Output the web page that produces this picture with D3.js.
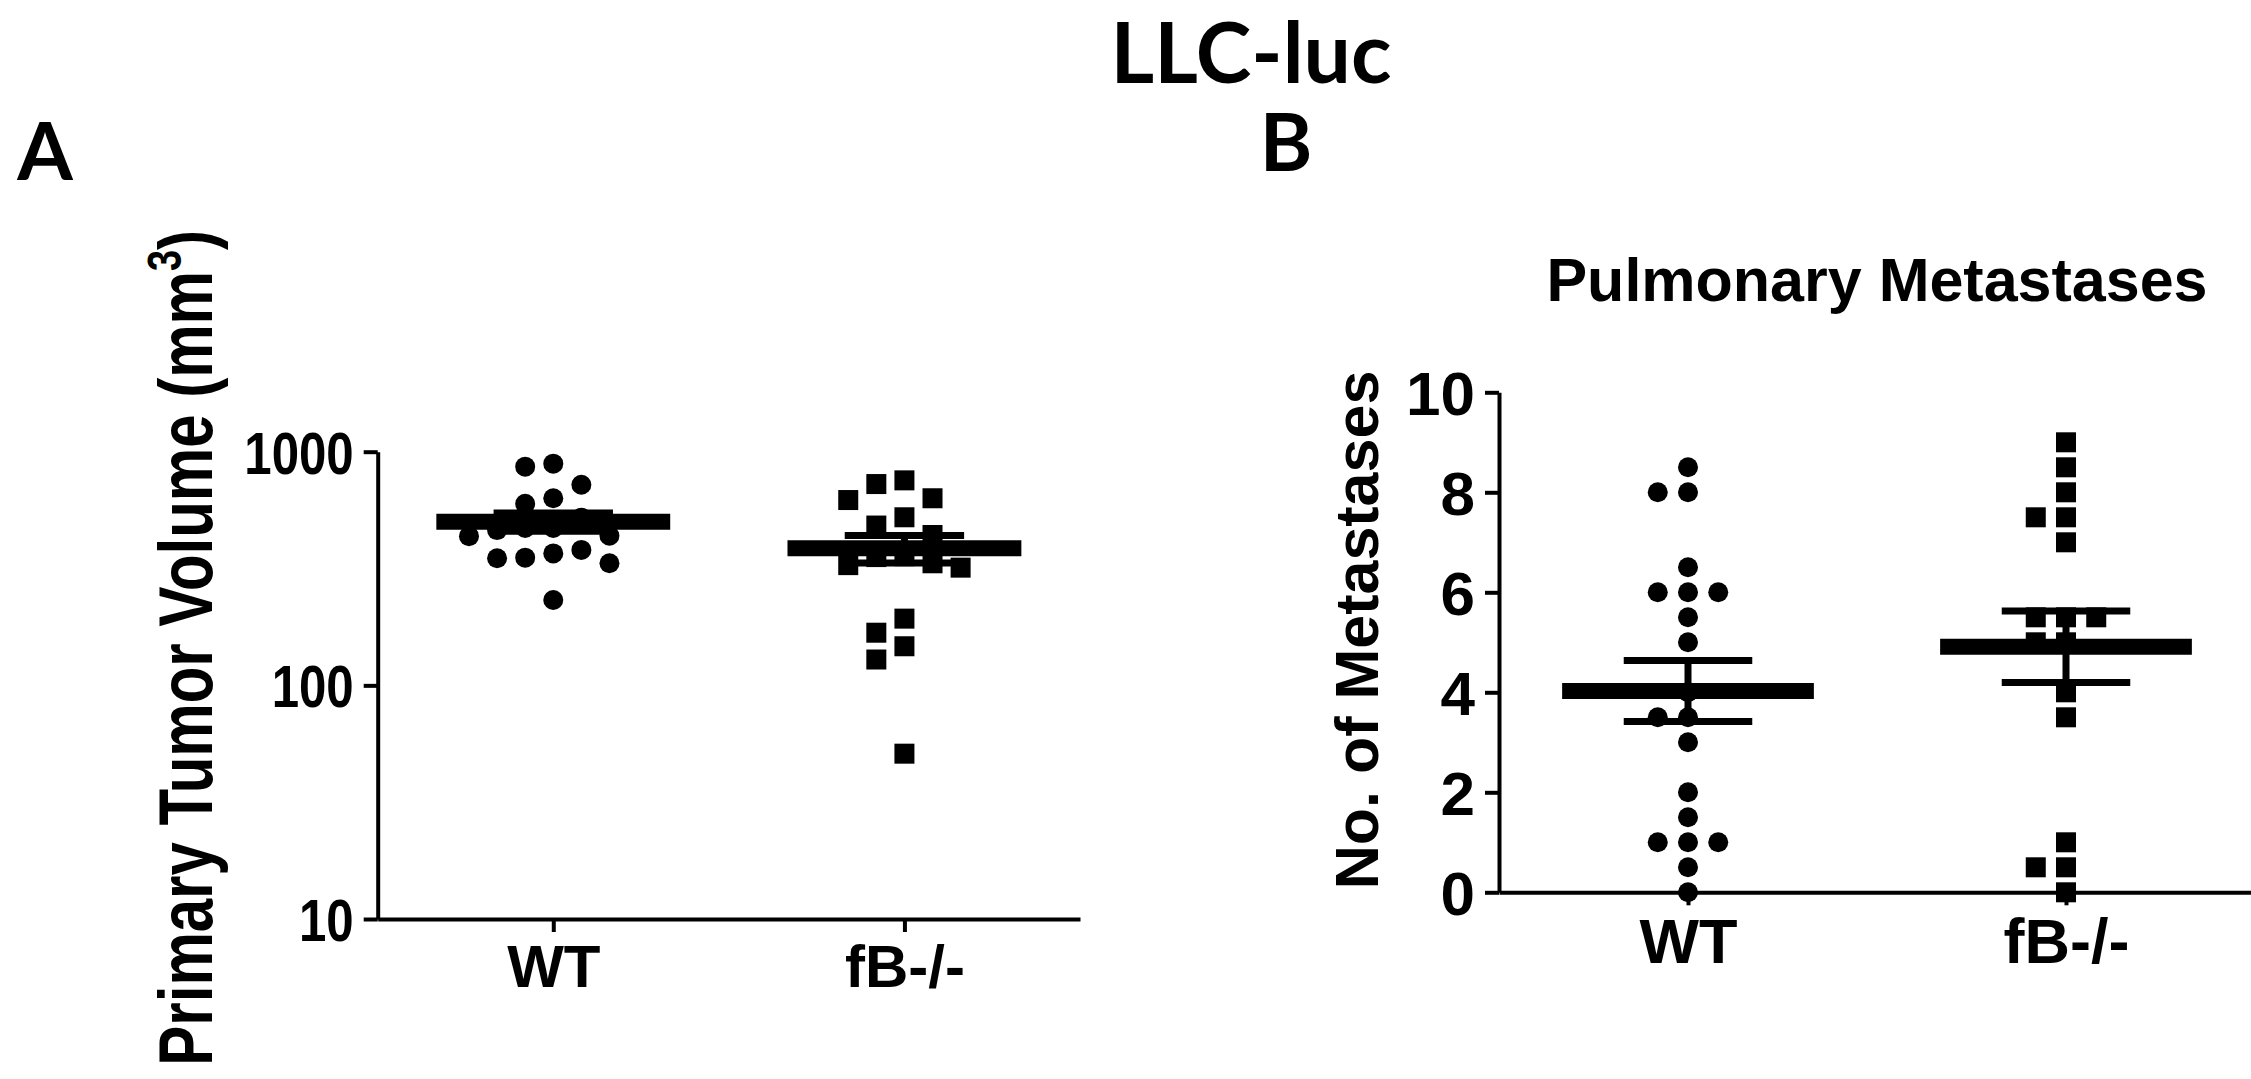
<!DOCTYPE html>
<html><head><meta charset="utf-8">
<script src="https://cdn.jsdelivr.net/npm/d3@7"></script>
<style>html,body{margin:0;padding:0;background:#fff;overflow:hidden}</style>
</head><body><svg id="chart" width="2251" height="1079"></svg>
<script>
// ---------- data ----------
const categories = ["WT", "fB-/-"];
const volumeWT = [889, 863, 722, 632, 599, 522, 472, 472, 462, 437, 435, 380, 367, 352, 350, 333, 232];
const volumeFB = [754, 727, 632, 621, 524, 483, 440, 357, 354, 333, 327, 319, 193, 168, 147, 129, 51];
const metastasesWT = [8.5, 8, 8, 6.5, 6, 6, 6, 5.5, 5, 4, 3.5, 3.5, 3, 2, 1.5, 1, 1, 1, 0.5, 0];
const metastasesFB = [9, 8.5, 8, 7.5, 7.5, 7, 5.5, 5.5, 5.5, 5, 5, 4, 3.5, 1, 0.5, 0.5, 0];
const volumeTicks = [10, 100, 1000];
const volumeTickLabels = ["10", "100", "1000"];
const metastasesTicks = [0, 2, 4, 6, 8, 10];
const mainTitle = "LLC-luc";
const panelLabels = ["A", "B"];
const titleB = "Pulmonary Metastases";
const yLabelB = "No. of Metastases";

// ---------- setup ----------
const svg = d3.select("#chart");
const FONT = "'Liberation Sans', Arial, Helvetica, sans-serif";
const TFONT = "Lato, 'Open Sans', sans-serif";

svg.append("text").attr("x", 1251).attr("y", 83).attr("text-anchor", "middle")
  .attr("font-family", TFONT).attr("font-weight", 700).attr("font-size", 84).text(mainTitle);
svg.append("text").attr("x", 45).attr("y", 180).attr("text-anchor", "middle")
  .attr("font-family", TFONT).attr("font-weight", 700).attr("font-size", 80).text(panelLabels[0]);
svg.append("text").attr("x", 1286).attr("y", 171).attr("text-anchor", "middle")
  .attr("font-family", TFONT).attr("font-weight", 700).attr("font-size", 80).text(panelLabels[1]);

function swarm(values, yScale, cx, step, minDist) {
  const order = values.map((v, i) => i).sort((a, b) => values[b] - values[a]);
  const placed = [];
  const out = new Array(values.length);
  order.forEach(i => {
    const y = yScale(values[i]);
    for (let k = 0; k < 40; k++) {
      const slot = k === 0 ? 0 : (k % 2 ? -Math.ceil(k / 2) : Math.ceil(k / 2));
      if (!placed.some(p => p.slot === slot && Math.abs(p.y - y) < minDist)) {
        placed.push({slot, y});
        out[i] = {x: cx + slot * step, y: y, v: values[i]};
        break;
      }
    }
  });
  return out;
}

function styleAxis(g, fontSize) {
  g.selectAll("path.domain").attr("stroke", "#000").attr("stroke-width", 4);
  g.selectAll(".tick line").attr("stroke", "#000").attr("stroke-width", 4);
  g.selectAll(".tick text").attr("font-family", FONT).attr("font-weight", 700)
    .attr("font-size", fontSize).attr("fill", "#000");
}

function drawGroup(g, pts, shape, cx, step, meanY, upY, loY) {
  const size = 20;
  if (shape === "circle") {
    g.selectAll(null).data(pts).enter().append("circle")
      .attr("cx", d => d.x).attr("cy", d => d.y).attr("r", size / 2).attr("fill", "#000");
  } else {
    g.selectAll(null).data(pts).enter().append("rect")
      .attr("x", d => d.x - size / 2).attr("y", d => d.y - size / 2)
      .attr("width", size).attr("height", size).attr("fill", "#000");
  }
  const meanW = step * 0.666, capW = step * 0.34;
  g.append("line").attr("x1", cx).attr("x2", cx).attr("y1", upY).attr("y2", loY)
    .attr("stroke", "#000").attr("stroke-width", 7);
  [upY, loY].forEach(y => g.append("line").attr("x1", cx - capW / 2).attr("x2", cx + capW / 2)
    .attr("y1", y).attr("y2", y).attr("stroke", "#000").attr("stroke-width", 7));
  g.append("line").attr("x1", cx - meanW / 2).attr("x2", cx + meanW / 2)
    .attr("y1", meanY).attr("y2", meanY).attr("stroke", "#000").attr("stroke-width", 16);
}

function stats(arr) {
  const m = d3.mean(arr);
  const sem = d3.deviation(arr) / Math.sqrt(arr.length);
  return {m, sem};
}

// ---------- Panel A ----------
{
  const x = d3.scalePoint().domain(categories).range([377.7, 1080]).padding(0.5);
  const y = d3.scaleLog().domain([10, 1000]).range([919, 451.7]);
  const step = x.step();
  const gx = svg.append("g").attr("transform", "translate(0,919)")
    .call(d3.axisBottom(x).tickSize(13).tickSizeOuter(0).tickPadding(12));
  styleAxis(gx, 60);
  const gy = svg.append("g").attr("transform", "translate(377.7,0)")
    .call(d3.axisLeft(y).tickValues(volumeTicks).tickFormat((d, i) => volumeTickLabels[i])
      .tickSize(14).tickSizeOuter(0).tickPadding(10));
  styleAxis(gy, 60);
  const sx = 0.82;
  gy.selectAll(".tick text").attr("dy", "0.36em")
    .attr("x", -24 / sx).attr("transform", `scale(${sx},1)`);

  const yl = svg.append("text").attr("transform", "translate(212,230) rotate(-90) scale(1,1.28)")
    .attr("text-anchor", "end").attr("font-family", FONT).attr("font-weight", 700)
    .attr("font-size", 60).attr("fill", "#000");
  yl.append("tspan").text("Primary Tumor Volume (mm");
  yl.append("tspan").attr("font-size", 38).attr("dy", -24).text("3");
  yl.append("tspan").attr("dy", 24).text(")");

  [volumeWT, volumeFB].forEach((vals, gi) => {
    const cx = x(categories[gi]);
    const pts = swarm(vals, y, cx, step * 0.08, 24);
    const s = stats(vals);
    drawGroup(svg.append("g"), pts, gi === 0 ? "circle" : "square", cx, step,
      y(s.m), y(s.m + s.sem), y(s.m - s.sem));
  });
}

// ---------- Panel B ----------
{
  const x = d3.scalePoint().domain(categories).range([1499, 2255]).padding(0.5);
  const y = d3.scaleLinear().domain([0, 10]).range([892.3, 392.3]);
  const step = x.step();
  const gx = svg.append("g").attr("transform", "translate(0,892.3)")
    .call(d3.axisBottom(x).tickSize(13).tickSizeOuter(0).tickPadding(13));
  styleAxis(gx, 63);
  const gy = svg.append("g").attr("transform", "translate(1499,0)")
    .call(d3.axisLeft(y).tickValues(metastasesTicks).tickFormat(d3.format("d"))
      .tickSize(14).tickSizeOuter(0).tickPadding(10));
  styleAxis(gy, 62);
  gy.selectAll(".tick text").attr("dy", "0.36em");

  svg.append("text").attr("transform", "translate(1378,630) rotate(-90)")
    .attr("text-anchor", "middle").attr("font-family", FONT).attr("font-weight", 700)
    .attr("font-size", 61).attr("fill", "#000").text(yLabelB);
  svg.append("text").attr("x", 1877).attr("y", 301).attr("text-anchor", "middle")
    .attr("font-family", FONT).attr("font-weight", 700)
    .attr("font-size", 61).attr("fill", "#000").text(titleB);

  [metastasesWT, metastasesFB].forEach((vals, gi) => {
    const cx = x(categories[gi]);
    const pts = swarm(vals, y, cx, step * 0.08, 24);
    const s = stats(vals);
    drawGroup(svg.append("g"), pts, gi === 0 ? "circle" : "square", cx, step,
      y(s.m), y(s.m + s.sem), y(s.m - s.sem));
  });
}
</script></body></html>
